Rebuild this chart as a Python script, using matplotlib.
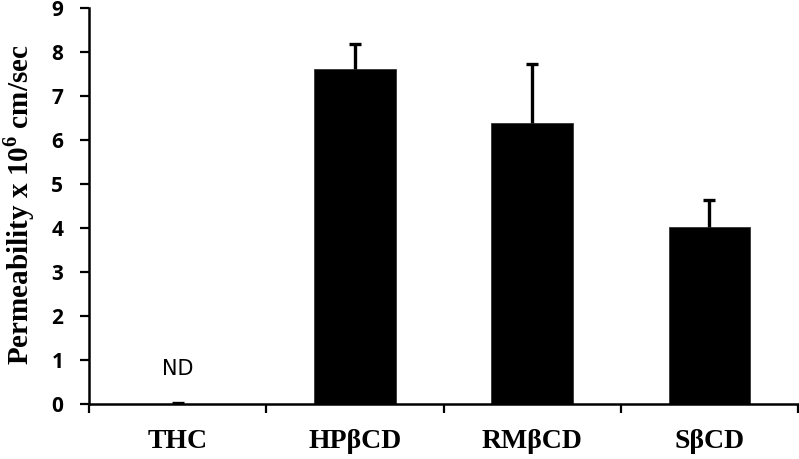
import numpy as np
import matplotlib.pyplot as plt

categories = ['THC', 'HPβCD', 'RMβCD', 'SβCD']
means = [0.0, 7.61, 6.38, 4.03]
errors = [0.03, 0.57, 1.35, 0.61]
yticks = [0, 1, 2, 3, 4, 5, 6, 7, 8, 9]

plt.rcParams['mathtext.fontset'] = 'custom'
plt.rcParams['mathtext.bf'] = 'Liberation Serif:bold'
plt.rcParams['mathtext.rm'] = 'Liberation Serif:bold'


def main():
    fig = plt.figure(figsize=(7.99, 4.59), dpi=100)
    ax = fig.add_axes([89 / 799, 1 - 404 / 459, 709 / 799, 396 / 459])

    x = np.arange(len(categories))
    m = np.array(means)
    e = np.array(errors)
    ax.bar(x, m, width=0.46, color='black', edgecolor='#333333', linewidth=0.6)
    # upward error bars only
    ax.vlines(x, m, m + e, color='black', linewidth=2.4)
    ax.plot(x, m + e, linestyle='none', marker='_', markersize=8.6,
            markeredgewidth=2.4, color='black')

    ax.text(0, 0.8, 'ND', ha='center', va='center', fontsize=15, family='DejaVu Sans')

    ax.set_xlim(-0.5, 3.5)
    ax.set_ylim(0, 9)

    for side in ['top', 'right']:
        ax.spines[side].set_visible(False)
    for side in ['left', 'bottom']:
        ax.spines[side].set_linewidth(1.8)

    ax.set_yticks(yticks)
    ax.set_yticklabels([str(v) for v in yticks], fontsize=15, fontweight='bold', family='Open Sans')
    ax.tick_params(axis='y', direction='out', length=6.5, width=1.6, pad=12)

    ax.set_xticks(x)
    ax.set_xticklabels(categories, fontsize=20, fontweight='bold', family='Liberation Serif')
    ax.set_xticks(np.arange(-0.5, 4, 1), minor=True)
    ax.tick_params(axis='x', which='major', length=0, pad=18)
    ax.tick_params(axis='x', which='minor', direction='out', length=6.5, width=1.6)

    ax.set_ylabel('Permeability x 10$^{\\mathbf{6}}$ cm/sec', fontsize=21, fontweight='bold',
                  family='Liberation Serif')
    ax.yaxis.set_label_coords(-52 / 709, (404 - 205) / 396)

    fig.savefig('out.png', dpi=100)


main()
